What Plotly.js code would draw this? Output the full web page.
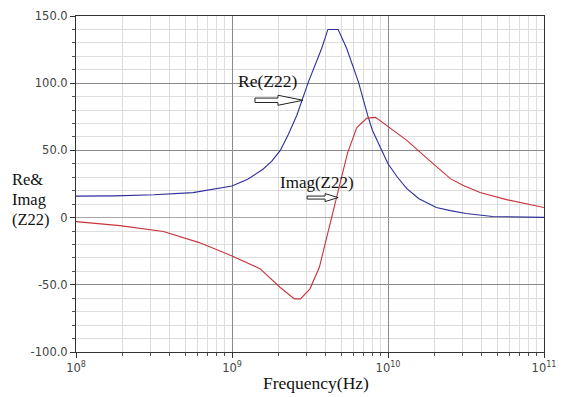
<!DOCTYPE html>
<html>
<head>
<meta charset="utf-8">
<script src="https://cdn.plot.ly/plotly-3.0.1.min.js"></script>
<style>html,body{margin:0;padding:0;background:#fff;}#chart{width:567px;height:397px;}</style>
</head>
<body>
<div id="chart"></div>
<script>
// Re(Z22) series
const reFreq = [1.0e8, 1.78e8, 3.16e8, 5.62e8, 1.0e9, 1.26e9, 1.58e9, 1.8e9, 2.04e9, 2.30e9, 2.60e9, 3.09e9,
  3.76e9, 4.12e9, 4.79e9, 5.43e9, 6.46e9, 6.92e9, 7.41e9, 7.94e9, 8.91e9, 1.0e10,
  1.15e10, 1.32e10, 1.58e10, 2.04e10, 2.51e10, 3.16e10, 4.68e10, 7.08e10, 1.0e11];
const reVal = [16.0, 16.2, 17.0, 18.6, 23.5, 28.5, 36, 42, 50, 62, 76, 101,
  126, 140, 140, 126, 101, 88, 76, 65, 52, 40,
  30, 21.6, 14, 7.5, 5.2, 3.0, 0.8, 0.3, 0.2];
// Imag(Z22) series
const imFreq = [1.0e8, 1.91e8, 3.63e8, 6.17e8, 1.0e9, 1.51e9, 2.04e9, 2.51e9, 2.75e9, 3.16e9,
  3.63e9, 3.98e9, 4.37e9, 4.79e9, 5.50e9, 6.31e9, 7.33e9, 8.32e9, 9.77e9, 1.32e10,
  1.78e10, 2.51e10, 3.02e10, 3.89e10, 5.75e10, 1.0e11];
const imVal = [-3, -6, -10.4, -18.6, -28.5, -38, -52, -60.5, -60.5, -53,
  -37, -18, 0, 20, 48, 67, 74, 74.6, 68.7, 57.5,
  44, 29, 24, 18.7, 13.4, 7.5];
// Axis ticks
const xDecades = [1e8, 1e9, 1e10, 1e11];
const xTickText = ['10<sup>8</sup>', '10<sup>9</sup>', '10<sup>10</sup>', '10<sup>11</sup>'];
const yTickVals = [-100, -50, 0, 50, 100, 150];
const yTickText = ['-100.0', '-50.0', '0', '50.0', '100.0', '150.0'];
const yTitleLines = ['Re&', 'Imag', '(Z22)'];
// Label anchors
const reArrowTip = {f: 2.85e9, v: 87.3};
const imArrowTip = {f: 4.79e9, v: 14.9};
const reLabel = {f: 1.70e9, v: 102, text: 'Re(Z22)'};
const imLabel = {f: 3.5e9, v: 26, text: 'Imag(Z22)'};

const minorX = [];
for (let i = 0; i < xDecades.length - 1; i++) {
  for (let m = 2; m <= 9; m++) minorX.push(xDecades[i] * m);
}

const serif = 'Liberation Serif, Times New Roman, serif';
const traces = [
  {x: reFreq, y: reVal, type: 'scatter', mode: 'lines', line: {color: '#2e2e9a', width: 1.1}, hoverinfo: 'skip'},
  {x: imFreq, y: imVal, type: 'scatter', mode: 'lines', line: {color: '#c8323c', width: 1.1}, hoverinfo: 'skip'}
];

function arrowPath(shaftLen, headLen, shaftHalf, headHalf) {
  const a = -(shaftLen + headLen), b = -headLen;
  return `M ${a},${shaftHalf} L ${b},${shaftHalf} L ${b},${headHalf} L 0,0 L ${b},${-headHalf} L ${b},${-shaftHalf} L ${a},${-shaftHalf} Z`;
}

const yTitleAnn = yTitleLines.map((t, i) => ({
  x: -0.14, y: (352 - (179 + 20 * i)) / 336, xref: 'paper', yref: 'paper',
  xanchor: 'left', yanchor: 'middle',
  text: t, showarrow: false, font: {family: serif, size: 16.5, color: '#111'}
}));

const layout = {
  width: 567, height: 397,
  margin: {l: 76, r: 23, t: 16, b: 45},
  paper_bgcolor: '#ffffff', plot_bgcolor: '#ffffff',
  showlegend: false,
  xaxis: {
    type: 'log', range: [8, 11], tickmode: 'array', tickvals: xDecades, ticktext: xTickText,
    showgrid: true, gridcolor: '#8a8a8a', gridwidth: 1,
    ticks: 'outside', ticklen: 5, tickcolor: '#333', tickfont: {family: 'DejaVu Sans, sans-serif', size: 11.5, color: '#444'},
    showline: true, linecolor: '#333', linewidth: 1, mirror: true, zeroline: false,
    minor: {tickmode: 'array', tickvals: minorX, showgrid: true, gridcolor: '#dedede', gridwidth: 1, ticks: 'outside', ticklen: 3, tickcolor: '#555'}
  },
  yaxis: {
    range: [-100, 150], tickmode: 'array', tickvals: yTickVals, ticktext: yTickText,
    showgrid: true, gridcolor: '#8a8a8a', gridwidth: 1,
    ticks: 'outside', ticklen: 5, tickcolor: '#333', tickfont: {family: 'DejaVu Sans, sans-serif', size: 11.5, color: '#444'},
    showline: true, linecolor: '#333', linewidth: 1, mirror: true,
    zeroline: true, zerolinecolor: '#a8a8a8', zerolinewidth: 1.5,
    minor: {dtick: 10, showgrid: true, gridcolor: '#dedede', gridwidth: 1, ticks: 'outside', ticklen: 3, tickcolor: '#555'}
  },
  shapes: [
    {type: 'path', xref: 'x', yref: 'y', xsizemode: 'pixel', ysizemode: 'pixel',
     xanchor: reArrowTip.f, yanchor: reArrowTip.v, path: arrowPath(23, 25, 2.2, 5),
     line: {color: '#222', width: 1}, fillcolor: '#ffffff', layer: 'above'},
    {type: 'path', xref: 'x', yref: 'y', xsizemode: 'pixel', ysizemode: 'pixel',
     xanchor: imArrowTip.f, yanchor: imArrowTip.v, path: arrowPath(18, 13, 1.5, 4),
     line: {color: '#222', width: 1}, fillcolor: '#ffffff', layer: 'above'}
  ],
  annotations: [
    {x: Math.log10(reLabel.f), y: reLabel.v, xref: 'x', yref: 'y', text: reLabel.text, showarrow: false,
     font: {family: serif, size: 17.5, color: '#111'}},
    {x: Math.log10(imLabel.f), y: imLabel.v, xref: 'x', yref: 'y', text: imLabel.text, showarrow: false,
     font: {family: serif, size: 17, color: '#111'}},
    ...yTitleAnn,
    {x: 0.513, y: (352 - 383) / 336, xref: 'paper', yref: 'paper', xanchor: 'center', yanchor: 'middle', text: 'Frequency(Hz)', showarrow: false,
     font: {family: serif, size: 17.5, color: '#111'}}
  ]
};

Plotly.newPlot('chart', traces, layout, {staticPlot: true, displayModeBar: false});
</script>
</body>
</html>
